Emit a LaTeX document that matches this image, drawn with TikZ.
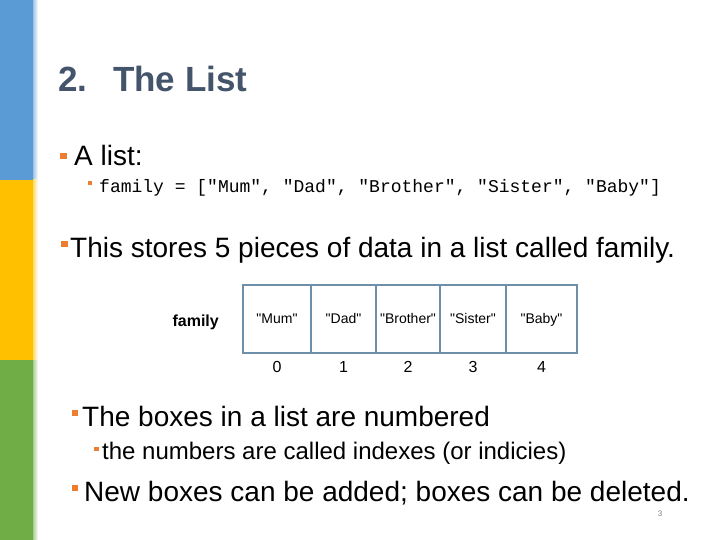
\documentclass[tikz,border=0pt]{standalone}
\usepackage{fontspec}
\setmainfont{Liberation Sans}
\setmonofont{Liberation Mono}
\definecolor{barblue}{HTML}{5B9BD5}
\definecolor{baryellow}{HTML}{FFC000}
\definecolor{bargreen}{HTML}{70AD47}
\definecolor{titlegray}{HTML}{44546A}
\definecolor{accent}{HTML}{ED7D31}
\definecolor{cellline}{HTML}{6E8FA8}
\newcommand\dq[1]{\textquotedbl#1\textquotedbl}
\begin{document}
\begin{tikzpicture}[x=1pt,y=-1pt,
    sq/.style={fill=accent,inner sep=0pt,minimum size=6.5pt},
    subsq/.style={fill=accent,inner sep=0pt,minimum size=4.8pt},
    txt/.style={anchor=base west,inner sep=0pt,font=\fontsize{28}{30}\selectfont},
    subtxt/.style={anchor=base west,inner sep=0pt,font=\fontsize{24}{26}\selectfont},
    cell/.style={draw=cellline,line width=2pt,minimum height=68pt,inner sep=0pt,
        text height=10pt,text depth=2pt,font=\fontsize{14}{16}\selectfont},
    idx/.style={inner sep=0pt,font=\fontsize{16}{18}\selectfont}]
    \useasboundingbox (0,0) rectangle (720,540);
        \fill[white] (0,0) rectangle (720,540);
    % side bar
        \fill[barblue] (0,0) rectangle (33,180);
        \fill[baryellow] (0,180) rectangle (33,360);
        \fill[bargreen] (0,360) rectangle (33,540);
        \shade[left color=barblue!60,right color=white] (33,0) rectangle (38,180);
        \shade[left color=baryellow!60,right color=white] (33,180) rectangle (38,360);
        \shade[left color=bargreen!60,right color=white] (33,360) rectangle (38,540);
    % title
    \node[anchor=base west,inner sep=0pt,text=titlegray,font=\fontsize{35}{38}\selectfont\bfseries] (num) at (58,92) {2.};
    \node[anchor=base west,inner sep=0pt,text=titlegray,font=\fontsize{35}{38}\selectfont\bfseries] (title) at (113,92) {The List};
    % bullets
    \node[sq] (b1) at (63.5,156) {};
    \node[txt] (t1) at (74,166) {A list:};
    \node[subsq] (b2) at (90,183) {};
    \node[anchor=base west,inner sep=0pt,font=\fontsize{18}{20}\selectfont\ttfamily] (code) at (99,193) {family = ["Mum", "Dad", "Brother", "Sister", "Baby"]};
    \node[sq] (b3) at (64.5,244) {};
    \node[txt] (t3) at (70,257) {This stores 5 pieces of data in a list called family.};
    % the list
    \node[anchor=east,inner sep=0pt,font=\fontsize{16}{18}\selectfont\bfseries] (name) at (219,322) {family};
    \node[cell,minimum width=68pt] (c0) at (277,319) {\dq{Mum}};
    \node[cell,minimum width=65pt] (c1) at (343.5,319) {\dq{Dad}};
    \node[cell,minimum width=64pt] (c2) at (408,319) {\dq{Brother}};
    \node[cell,minimum width=66pt] (c3) at (473,319) {\dq{Sister}};
    \node[cell,minimum width=71pt] (c4) at (541.5,319) {\dq{Baby}};
    \foreach \i in {0,...,4}
        \node[idx] (n\i) at (c\i.center |- 0,367) {\i};
    % more bullets
    \node[sq] (b4) at (75,413) {};
    \node[txt] (t4) at (82,426) {The boxes in a list are numbered};
    \node[subsq] (b5) at (96.5,449) {};
    \node[subtxt] (t5) at (102,459) {the numbers are called indexes (or indicies)};
    \node[sq] (b6) at (75,488) {};
    \node[txt] (t6) at (84,501) {New boxes can be added; boxes can be deleted.};
    % page number
    \node[inner sep=0pt,text=gray,font=\fontsize{8}{9}\selectfont] (page) at (660,514) {3};
\end{tikzpicture}
\end{document}
